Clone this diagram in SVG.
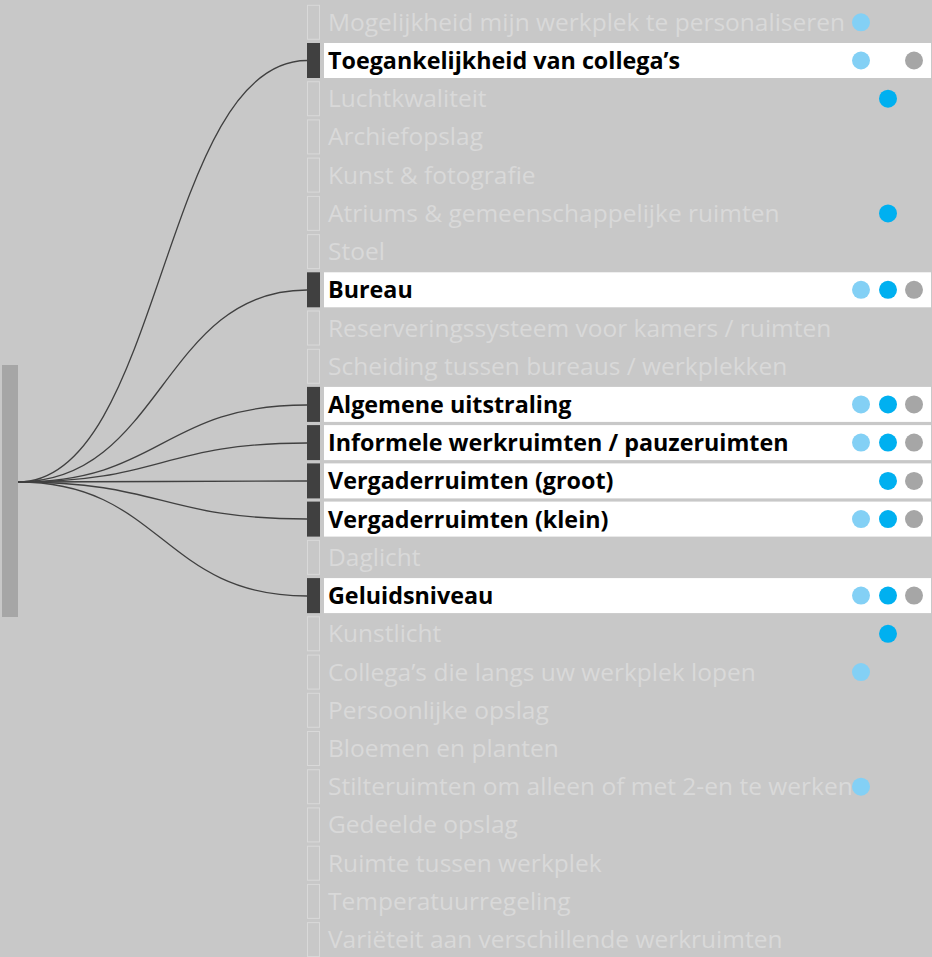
<svg xmlns="http://www.w3.org/2000/svg" width="932" height="957" viewBox="0 0 932 957">
<style>
.bg{fill:#c8c8c8}
.hd{fill:#404040}
.ho{fill:none;stroke:#d9d9d9;stroke-width:1}
.wb{fill:#ffffff}
.tb{font-family:"Open Sans","Liberation Sans",sans-serif;font-weight:700;font-size:23.3px;fill:#000}
.tf{font-family:"Open Sans","Liberation Sans",sans-serif;font-size:24.5px;fill:#d9d9d9}
.lb{fill:#83d0f5}
.bl{fill:#00b0f0}
.gr{fill:#a6a6a6}
.cn{fill:none;stroke:#404040;stroke-width:1.3}
</style>
<rect class="bg" x="0" y="0" width="932" height="957"/>
<rect id="root" x="2" y="365" width="16" height="252" fill="#a6a6a6"/>
<g id="connectors">
<path class="cn" d="M18,482 C162,482 162,60.5 307,60.5"/>
<path class="cn" d="M18,482 C162,482 162,290 307,290"/>
<path class="cn" d="M18,482 C162,482 162,405 307,405"/>
<path class="cn" d="M18,482 C162,482 162,443 307,443"/>
<path class="cn" d="M18,482 C162,482 162,481 307,481"/>
<path class="cn" d="M18,482 C162,482 162,519 307,519"/>
<path class="cn" d="M18,482 C162,482 162,596 307,596"/>
</g>
<g id="n0"><rect class="ho" x="307.5" y="5.3" width="12" height="34"/><text class="tf" x="328" y="30.8">Mogelijkheid mijn werkplek te personaliseren</text><circle class="lb" cx="861" cy="22.3" r="9"/></g>
<g id="n1"><rect class="wb" x="324" y="43" width="607" height="35"/><rect class="hd" x="307" y="43" width="13" height="35"/><text class="tb" x="328" y="69">Toegankelijkheid van collega’s</text><circle class="lb" cx="861" cy="60.5" r="9"/><circle class="gr" cx="914" cy="60.5" r="9"/></g>
<g id="n2"><rect class="ho" x="307.5" y="81.7" width="12" height="34"/><text class="tf" x="328" y="107.2">Luchtkwaliteit</text><circle class="bl" cx="888" cy="98.7" r="9"/></g>
<g id="n3"><rect class="ho" x="307.5" y="119.9" width="12" height="34"/><text class="tf" x="328" y="145.4">Archiefopslag</text></g>
<g id="n4"><rect class="ho" x="307.5" y="158.1" width="12" height="34"/><text class="tf" x="328" y="183.6">Kunst &amp; fotografie</text></g>
<g id="n5"><rect class="ho" x="307.5" y="196.4" width="12" height="34"/><text class="tf" x="328" y="221.9">Atriums &amp; gemeenschappelijke ruimten</text><circle class="bl" cx="888" cy="213.4" r="9"/></g>
<g id="n6"><rect class="ho" x="307.5" y="234.6" width="12" height="34"/><text class="tf" x="328" y="260.1">Stoel</text></g>
<g id="n7"><rect class="wb" x="324" y="272.3" width="607" height="35"/><rect class="hd" x="307" y="272.3" width="13" height="35"/><text class="tb" x="328" y="298.3">Bureau</text><circle class="lb" cx="861" cy="289.8" r="9"/><circle class="bl" cx="888" cy="289.8" r="9"/><circle class="gr" cx="914" cy="289.8" r="9"/></g>
<g id="n8"><rect class="ho" x="307.5" y="311" width="12" height="34"/><text class="tf" x="328" y="336.5">Reserveringssysteem voor kamers / ruimten</text></g>
<g id="n9"><rect class="ho" x="307.5" y="349.3" width="12" height="34"/><text class="tf" x="328" y="374.8">Scheiding tussen bureaus / werkplekken</text></g>
<g id="n10"><rect class="wb" x="324" y="386.9" width="607" height="35"/><rect class="hd" x="307" y="386.9" width="13" height="35"/><text class="tb" x="328" y="412.9">Algemene uitstraling</text><circle class="lb" cx="861" cy="404.4" r="9"/><circle class="bl" cx="888" cy="404.4" r="9"/><circle class="gr" cx="914" cy="404.4" r="9"/></g>
<g id="n11"><rect class="wb" x="324" y="425.1" width="607" height="35"/><rect class="hd" x="307" y="425.1" width="13" height="35"/><text class="tb" x="328" y="451.1">Informele werkruimten / pauzeruimten</text><circle class="lb" cx="861" cy="442.6" r="9"/><circle class="bl" cx="888" cy="442.6" r="9"/><circle class="gr" cx="914" cy="442.6" r="9"/></g>
<g id="n12"><rect class="wb" x="324" y="463.4" width="607" height="35"/><rect class="hd" x="307" y="463.4" width="13" height="35"/><text class="tb" x="328" y="489.4">Vergaderruimten (groot)</text><circle class="bl" cx="888" cy="480.9" r="9"/><circle class="gr" cx="914" cy="480.9" r="9"/></g>
<g id="n13"><rect class="wb" x="324" y="501.6" width="607" height="35"/><rect class="hd" x="307" y="501.6" width="13" height="35"/><text class="tb" x="328" y="527.6">Vergaderruimten (klein)</text><circle class="lb" cx="861" cy="519.1" r="9"/><circle class="bl" cx="888" cy="519.1" r="9"/><circle class="gr" cx="914" cy="519.1" r="9"/></g>
<g id="n14"><rect class="ho" x="307.5" y="540.4" width="12" height="34"/><text class="tf" x="328" y="565.9">Daglicht</text></g>
<g id="n15"><rect class="wb" x="324" y="578.1" width="607" height="35"/><rect class="hd" x="307" y="578.1" width="13" height="35"/><text class="tb" x="328" y="604.1">Geluidsniveau</text><circle class="lb" cx="861" cy="595.6" r="9"/><circle class="bl" cx="888" cy="595.6" r="9"/><circle class="gr" cx="914" cy="595.6" r="9"/></g>
<g id="n16"><rect class="ho" x="307.5" y="616.8" width="12" height="34"/><text class="tf" x="328" y="642.3">Kunstlicht</text><circle class="bl" cx="888" cy="633.8" r="9"/></g>
<g id="n17"><rect class="ho" x="307.5" y="655.1" width="12" height="34"/><text class="tf" x="328" y="680.6">Collega’s die langs uw werkplek lopen</text><circle class="lb" cx="861" cy="672.1" r="9"/></g>
<g id="n18"><rect class="ho" x="307.5" y="693.3" width="12" height="34"/><text class="tf" x="328" y="718.8">Persoonlijke opslag</text></g>
<g id="n19"><rect class="ho" x="307.5" y="731.5" width="12" height="34"/><text class="tf" x="328" y="757">Bloemen en planten</text></g>
<g id="n20"><rect class="ho" x="307.5" y="769.7" width="12" height="34"/><text class="tf" x="328" y="795.2">Stilteruimten om alleen of met 2-en te werken</text><circle class="lb" cx="861" cy="786.7" r="9"/></g>
<g id="n21"><rect class="ho" x="307.5" y="807.9" width="12" height="34"/><text class="tf" x="328" y="833.4">Gedeelde opslag</text></g>
<g id="n22"><rect class="ho" x="307.5" y="846.2" width="12" height="34"/><text class="tf" x="328" y="871.7">Ruimte tussen werkplek</text></g>
<g id="n23"><rect class="ho" x="307.5" y="884.4" width="12" height="34"/><text class="tf" x="328" y="909.9">Temperatuurregeling</text></g>
<g id="n24"><rect class="ho" x="307.5" y="922.6" width="12" height="34"/><text class="tf" x="328" y="948.1">Variëteit aan verschillende werkruimten</text></g>
</svg>
